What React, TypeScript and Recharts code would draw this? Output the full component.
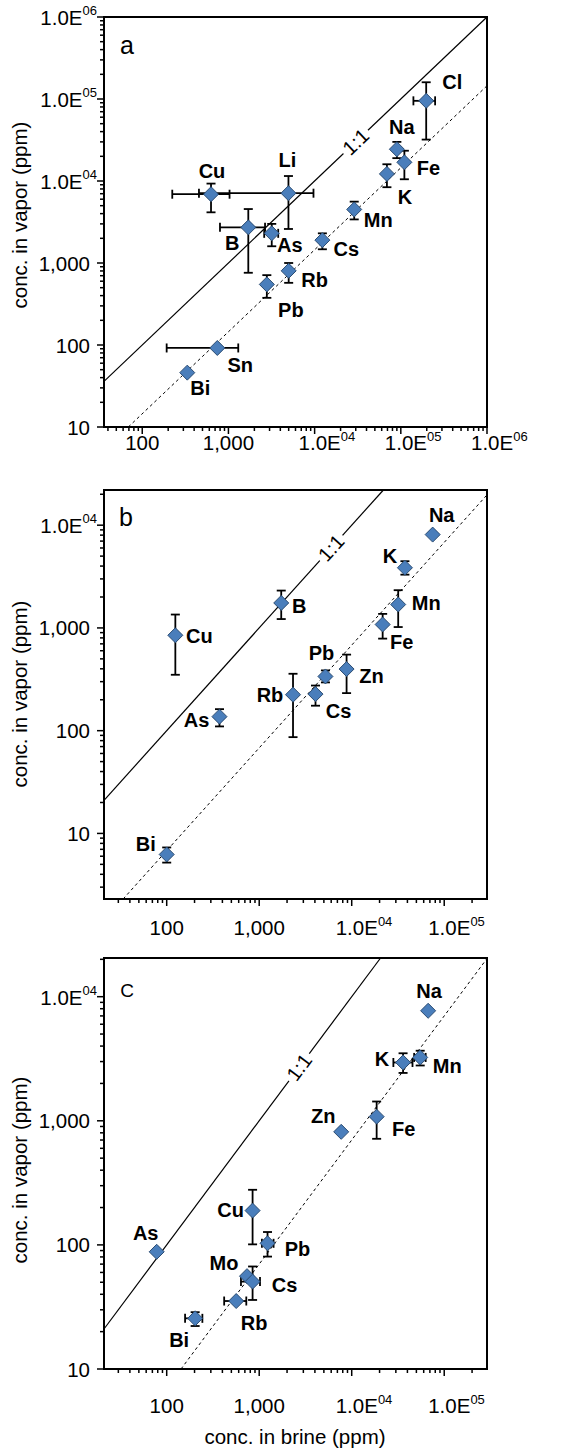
import {
  ScatterChart, Scatter, XAxis, YAxis, ErrorBar, ReferenceLine, ReferenceArea, ReferenceDot,
} from 'recharts'

const FONT = '"Liberation Sans", Arial, Helvetica, sans-serif'
const MARKER_FILL = '#4A7EBB'
const MARKER_STROKE = '#2B4C72'

// ---- panel a
const A_NAMES = ['Cl', 'Na', 'Fe', 'K', 'Mn', 'Cu', 'Li', 'B', 'As', 'Cs', 'Rb', 'Pb', 'Sn', 'Bi']
const A_BRINE = [197000, 90000, 110000, 69000, 28800, 628, 4970, 1700, 3180, 12300, 5000, 2790, 743, 333]
const A_VAPOR = [95000, 24400, 16900, 12200, 4500, 6900, 7100, 2720, 2300, 1900, 803, 548, 92, 46]
const A_VAPOR_LO = [32000, 19000, 10500, 8400, 3400, 4150, 2600, 760, 1600, 1470, 573, 376, null, null]
const A_VAPOR_HI = [160000, 30000, 23400, 16000, 5600, 9300, 11500, 4550, 3000, 2300, 1000, 711, null, null]
const A_BRINE_LO = [140000, null, null, null, null, 223, 455, 798, 2600, null, null, null, 192, null]
const A_BRINE_HI = [250000, null, null, null, null, 1030, 9700, 2660, 3780, null, null, null, 1300, null]
const A_X_DOMAIN = [36, 1e6]
const A_Y_DOMAIN = [10, 1e6]
const A_FIT = 0.145

// ---- panel b
const B_NAMES = ['Na', 'K', 'Mn', 'Fe', 'B', 'Cu', 'Zn', 'Pb', 'Cs', 'Rb', 'As', 'Bi']
const B_BRINE = [75000, 37600, 31800, 21600, 1730, 124, 8800, 5200, 4060, 2320, 372, 100]
const B_VAPOR = [8100, 3850, 1690, 1080, 1750, 848, 398, 337, 227, 224, 137, 6.24]
const B_VAPOR_LO = [null, 3300, 1020, 787, 1220, 350, 232, 295, 175, 86.5, 110, 5.2]
const B_VAPOR_HI = [null, 4460, 2330, 1370, 2310, 1350, 550, 386, 275, 358, 162, 7.3]
const B_X_DOMAIN = [21, 2.9e5]
const B_Y_DOMAIN = [2.3, 22000]
const B_FIT = 0.068

// ---- panel c
const C_NAMES = ['Na', 'K', 'Mn', 'Fe', 'Zn', 'Cu', 'As', 'Pb', 'Mo', 'Cs', 'Rb', 'Bi']
const C_BRINE = [67000, 35900, 55000, 18600, 7700, 848, 78, 1230, 738, 848, 564, 203]
const C_VAPOR = [7700, 2950, 3240, 1080, 815, 189, 88, 103, 56, 50.6, 35.3, 25.6]
const C_VAPOR_LO = [null, 2430, 2790, 716, null, 101, null, 80.5, null, 36, null, 22.2]
const C_VAPOR_HI = [null, 3500, 3670, 1430, null, 278, null, 127, null, 67, null, 28.7]
const C_BRINE_LO = [null, 28200, 47300, null, null, null, null, 1070, null, 635, 418, 158]
const C_BRINE_HI = [null, 45400, 63000, null, null, null, null, 1430, null, 1020, 725, 243]
const C_X_DOMAIN = [21, 2.9e5]
const C_Y_DOMAIN = [10, 20500]
const C_FIT = 0.07

const DECADES = [1, 10, 100, 1000, 1e4, 1e5, 1e6]

// label offsets (px) from each marker
const A_LABELS: Record<string, [number, number]> = {
  Cl: [26, -19], Na: [5, -22], Fe: [24, 6], K: [18, 23], Mn: [24, 11], Cu: [1, -23], Li: [-1, -33],
  B: [-16, 16], As: [18, 12], Cs: [24, 9], Rb: [26, 9], Pb: [24, 26], Sn: [23, 17], Bi: [13, 15],
}
const B_LABELS: Record<string, [number, number]> = {
  Na: [9, -20], K: [-15, -12], Mn: [28, -2], Fe: [19, 18], B: [18, 3], Cu: [24, 1], Pb: [-4, -23],
  Zn: [25, 7], Rb: [-23, 0], Cs: [23, 17], As: [-23, 3], Bi: [-21, -10],
}
const C_LABELS: Record<string, [number, number]> = {
  Na: [1, -20], K: [-21, -3], Mn: [27, 9], Zn: [-18, -16], Fe: [27, 12], Cu: [-22, -1], As: [-11, -19],
  Pb: [30, 6], Mo: [-23, -13], Cs: [32, 3], Rb: [18, 22], Bi: [-16, 22],
}

type Num = number | null
type Pt = { name: string; x: number; y: number; ex?: [number, number]; ey?: [number, number] }

function buildRows(names: string[], brine: number[], vapor: number[], vLo: Num[], vHi: Num[], bLo?: Num[], bHi?: Num[]): Pt[] {
  return names.map((name, i) => {
    const row: Pt = { name, x: brine[i], y: vapor[i] }
    if (vLo[i] != null && vHi[i] != null) row.ey = [vapor[i] - (vLo[i] as number), (vHi[i] as number) - vapor[i]]
    if (bLo && bHi && bLo[i] != null && bHi[i] != null) row.ex = [brine[i] - (bLo[i] as number), (bHi[i] as number) - brine[i]]
    return row
  })
}

function logTicks(domain: number[]) {
  const out: number[] = []
  DECADES.forEach((d) => {
    for (let m = 1; m <= 9; m++) {
      const v = m * d
      if (v >= domain[0] * 0.999 && v <= domain[1] * 1.001) out.push(v)
    }
  })
  return out
}

const isMajor = (v: number) => Math.abs(Math.log10(v) - Math.round(Math.log10(v))) < 1e-6

function tickParts(v: number): [string, string | null] {
  const e = Math.round(Math.log10(v))
  if (e >= 4) return ['1.0E', `0${e}`]
  return [v.toLocaleString('en-US'), null]
}

function XTick({ x, y, payload, labelDy }: any) {
  const v = payload.value
  const major = isMajor(v)
  const [base, exp] = tickParts(v)
  return (
    <g>
      <line x1={x} x2={x} y1={y} y2={y + (major ? 7 : 4)} stroke="#000" strokeWidth={1.5} />
      {major && (exp ? (
        <text x={x - 16} y={y + labelDy} fontSize={20.5} fontFamily={FONT} fill="#000">
          {base}<tspan fontSize={13} dy={-9}>{exp}</tspan>
        </text>
      ) : (
        <text x={x} y={y + labelDy} textAnchor="middle" fontSize={20.5} fontFamily={FONT} fill="#000">{base}</text>
      ))}
    </g>
  )
}

function YTick({ x, y, payload }: any) {
  const v = payload.value
  const major = isMajor(v)
  const [base, exp] = tickParts(v)
  return (
    <g>
      <line x1={x} x2={x - (major ? 7 : 4)} y1={y} y2={y} stroke="#000" strokeWidth={1.5} />
      {major && (exp ? (
        <text x={x - 7} y={y + 8} textAnchor="end" fontSize={20.5} fontFamily={FONT} fill="#000">
          {base}<tspan fontSize={13} dy={-10}>{exp}</tspan>
        </text>
      ) : (
        <text x={x - 14} y={y + 7.5} textAnchor="end" fontSize={20.5} fontFamily={FONT} fill="#000">{base}</text>
      ))}
    </g>
  )
}

function makeShape(labels: Record<string, [number, number]>) {
  return (p: any) => {
    const { cx, cy, payload } = p
    const off = labels[payload.name] ?? [0, 0]
    const r = 7.5
    return (
      <g>
        <path d={`M${cx},${cy - r}L${cx + r},${cy}L${cx},${cy + r}L${cx - r},${cy}Z`} fill={MARKER_FILL} stroke={MARKER_STROKE} strokeWidth={1} />
        <text x={cx + off[0]} y={cy + off[1] + 7} textAnchor="middle" fontSize={20} fontWeight="bold" fontFamily={FONT} fill="#000">
          {payload.name}
        </text>
      </g>
    )
  }
}

function OneToOneLabel({ cx, cy, angle }: any) {
  return (
    <g transform={`rotate(${angle} ${cx} ${cy})`}>
      <rect x={cx - 17} y={cy - 10} width={34} height={20} fill="#fff" />
      <text x={cx} y={cy + 7} textAnchor="middle" fontSize={20} fontFamily={FONT} fill="#000">1:1</text>
    </g>
  )
}

interface PanelProps {
  rows: Pt[]
  labels: Record<string, [number, number]>
  xDomain: number[]
  yDomain: number[]
  fit: number
  oneLabelAt: number
  oneAngle: number
  height: number
  margin: { top: number; right: number; bottom: number; left: number }
  xAxisHeight: number
  xLabelDy: number
}

function Panel({ rows, labels, xDomain, yDomain, fit, oneLabelAt, oneAngle, height, margin, xAxisHeight, xLabelDy }: PanelProps) {
  const oneStart = Math.max(xDomain[0], yDomain[0])
  const oneEnd = Math.min(xDomain[1], yDomain[1])
  const fitStart = Math.max(xDomain[0], yDomain[0] / fit)
  const fitEnd = Math.min(xDomain[1], yDomain[1] / fit)
  return (
    <ScatterChart width={573} height={height} margin={margin}>
      <XAxis
        type="number" dataKey="x" scale="log" domain={xDomain} allowDataOverflow
        ticks={logTicks(xDomain)} interval={0} height={xAxisHeight}
        axisLine={false} tickLine={false} tickSize={0} tickMargin={0}
        tick={<XTick labelDy={xLabelDy} />}
      />
      <YAxis
        type="number" dataKey="y" scale="log" domain={yDomain} allowDataOverflow
        ticks={logTicks(yDomain)} interval={0} width={100}
        axisLine={false} tickLine={false} tickSize={0} tickMargin={0}
        tick={<YTick />}
      />
      <ReferenceLine
        segment={[{ x: oneStart, y: oneStart }, { x: oneEnd, y: oneEnd }]}
        stroke="#000" strokeWidth={1.2} ifOverflow="visible"
      />
      <ReferenceLine
        segment={[{ x: fitStart, y: fitStart * fit }, { x: fitEnd, y: fitEnd * fit }]}
        stroke="#000" strokeWidth={1} strokeDasharray="3 3" ifOverflow="visible"
      />
      <ReferenceDot
        x={oneLabelAt} y={oneLabelAt} ifOverflow="visible"
        shape={(p: any) => <OneToOneLabel cx={p.cx} cy={p.cy} angle={oneAngle} />}
      />
      <ReferenceArea
        x1={xDomain[0]} x2={xDomain[1]} y1={yDomain[0]} y2={yDomain[1]}
        fill="none" fillOpacity={0} stroke="#000" strokeWidth={2} ifOverflow="visible"
      />
      <Scatter data={rows} isAnimationActive={false} shape={makeShape(labels)}>
        <ErrorBar dataKey="ey" direction="y" stroke="#000" strokeWidth={1.8} width={4.5} />
        <ErrorBar dataKey="ex" direction="x" stroke="#000" strokeWidth={1.8} width={4.5} />
      </Scatter>
    </ScatterChart>
  )
}

const txt: React.CSSProperties = { position: 'absolute', fontFamily: FONT, color: '#000', lineHeight: 1, whiteSpace: 'nowrap' }

function YTitle({ cy }: { cy: number }) {
  return (
    <div style={{ ...txt, left: 20, top: cy, fontSize: 20.5, transform: 'translate(-50%, -50%) rotate(-90deg)' }}>
      conc. in vapor (ppm)
    </div>
  )
}

function Letter({ x, y, size, children }: { x: number; y: number; size: number; children: string }) {
  return (
    <div style={{ ...txt, left: x, top: y, fontSize: size, transform: 'translate(-50%, -50%)' }}>{children}</div>
  )
}

export default function App() {
  const rowsA = buildRows(A_NAMES, A_BRINE, A_VAPOR, A_VAPOR_LO, A_VAPOR_HI, A_BRINE_LO, A_BRINE_HI)
  const rowsB = buildRows(B_NAMES, B_BRINE, B_VAPOR, B_VAPOR_LO, B_VAPOR_HI)
  const rowsC = buildRows(C_NAMES, C_BRINE, C_VAPOR, C_VAPOR_LO, C_VAPOR_HI, C_BRINE_LO, C_BRINE_HI)

  return (
    <div style={{ position: 'absolute', left: 0, top: 0, width: 573, height: 1452, background: '#fff', overflow: 'hidden' }}>
      <div style={{ position: 'absolute', left: 0, top: 0 }}>
        <Panel
          rows={rowsA} labels={A_LABELS} xDomain={A_X_DOMAIN} yDomain={A_Y_DOMAIN} fit={A_FIT}
          oneLabelAt={30000} oneAngle={-43.6} height={470}
          margin={{ top: 17, right: 86, bottom: 3, left: 4 }} xAxisHeight={40} xLabelDy={22.5}
        />
      </div>
      <div style={{ position: 'absolute', left: 0, top: 470 }}>
        <Panel
          rows={rowsB} labels={B_LABELS} xDomain={B_X_DOMAIN} yDomain={B_Y_DOMAIN} fit={B_FIT}
          oneLabelAt={6000} oneAngle={-48} height={480}
          margin={{ top: 20, right: 86, bottom: 6, left: 4 }} xAxisHeight={45} xLabelDy={35.5}
        />
      </div>
      <div style={{ position: 'absolute', left: 0, top: 950 }}>
        <Panel
          rows={rowsC} labels={C_LABELS} xDomain={C_X_DOMAIN} yDomain={C_Y_DOMAIN} fit={C_FIT}
          oneLabelAt={2700} oneAngle={-53.4} height={502}
          margin={{ top: 8, right: 86, bottom: 23, left: 4 }} xAxisHeight={60} xLabelDy={43.5}
        />
      </div>

      <YTitle cy={215} />
      <YTitle cy={694} />
      <YTitle cy={1170} />
      <div style={{ ...txt, left: 295, top: 1437, fontSize: 20.5, transform: 'translate(-50%, -50%)' }}>
        conc. in brine (ppm)
      </div>

      <Letter x={127} y={45} size={25}>a</Letter>
      <Letter x={126} y={517} size={25}>b</Letter>
      <Letter x={127} y={990} size={19}>C</Letter>
    </div>
  )
}
